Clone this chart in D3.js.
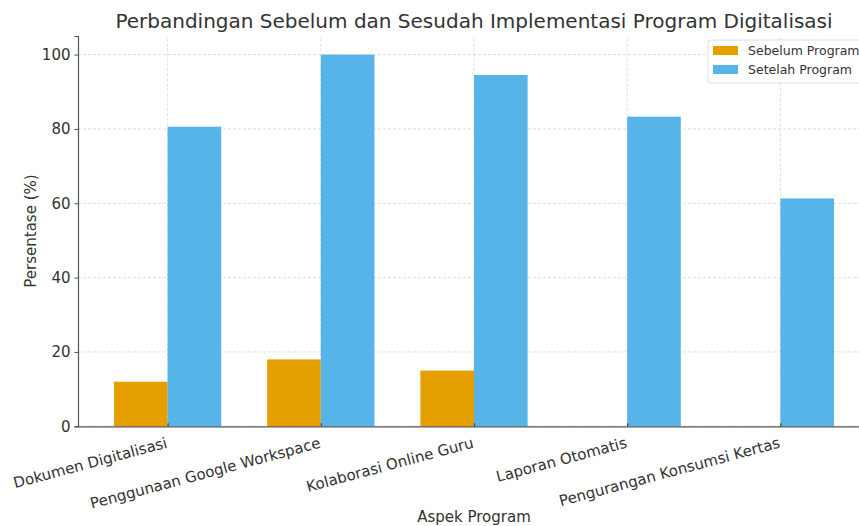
<!DOCTYPE html>
<html>
<head>
<meta charset="utf-8">
<script src="https://cdn.jsdelivr.net/npm/d3@7"></script>
<style>
  body { margin: 0; background: #fff; }
  svg { display: block; font-family: "DejaVu Sans", sans-serif; }
</style>
</head>
<body>
<svg width="859" height="526"></svg>
<script>
// chart data
var categories = ['Dokumen Digitalisasi', 'Penggunaan Google Workspace', 'Kolaborasi Online Guru', 'Laporan Otomatis', 'Pengurangan Konsumsi Kertas'];
var sebelum = [12, 18, 15, 0, 0];
var setelah = [80.6, 100, 94.5, 83.3, 61.3];
var yTicks = [0, 20, 40, 60, 80, 100];
var seriesNames = ['Sebelum Program', 'Setelah Program'];
var colors = ['#E69F00', '#56B4E9'];

var svg = d3.select('svg');
var textColor = '#333';
var barW = 0.35;

// axes area (right side runs past the picture edge)
var x = d3.scaleLinear().domain([-0.585, categories.length - 1 + 0.585]).range([78, 870]);
var y = d3.scaleLinear().domain([0, 105]).range([426.3, 36]);

// grid
var grid = svg.append('g');
grid.selectAll('line.h').data(yTicks).enter().append('line')
    .attr('x1', x.range()[0]).attr('x2', x.range()[1])
    .attr('y1', function(d) { return y(d) }).attr('y2', function(d) { return y(d) })
    .attr('stroke', '#d6d6d6').attr('stroke-width', 0.8).attr('stroke-dasharray', '3,2');
grid.selectAll('line.v').data(categories).enter().append('line')
    .attr('x1', function(d, i) { return x(i) }).attr('x2', function(d, i) { return x(i) })
    .attr('y1', y.range()[0]).attr('y2', y.range()[1])
    .attr('stroke', '#d6d6d6').attr('stroke-width', 0.8).attr('stroke-dasharray', '3,2');

// bars
[sebelum, setelah].forEach(function(vals, s) {
    svg.append('g').selectAll('rect').data(vals).enter().append('rect')
        .attr('x', function(d, i) { return s == 0 ? x(i - barW) : x(i) })
        .attr('width', x(barW) - x(0))
        .attr('y', function(d) { return y(d) })
        .attr('height', function(d) { return y(0) - y(d) })
        .attr('fill', colors[s]);
});

// y axis
var yAxis = svg.append('g').attr('transform', 'translate(78,0)')
    .call(d3.axisLeft(y).tickValues(yTicks).tickSize(3.5).tickPadding(4));
yAxis.select('.domain').attr('stroke', '#555').attr('stroke-width', 1.2);
yAxis.selectAll('.tick line').attr('stroke', '#555');
yAxis.selectAll('.tick text').attr('fill', textColor).style('font-size', '15px').style('font-family', 'DejaVu Sans');

// x axis
var xAxis = svg.append('g').attr('transform', 'translate(0,' + y(0) + ')')
    .call(d3.axisBottom(x).tickValues(d3.range(categories.length)).tickSize(-3).tickSizeOuter(0)
        .tickFormat(function(d) { return categories[d] }));
xAxis.select('.domain').attr('stroke', '#555').attr('stroke-width', 1.2);
xAxis.selectAll('.tick line').attr('stroke', '#444').attr('stroke-width', 1.2);
xAxis.selectAll('.tick text')
    .attr('fill', textColor).style('font-size', '15px').style('font-family', 'DejaVu Sans')
    .attr('text-anchor', 'end').attr('y', 0).attr('dy', 0)
    .attr('transform', 'translate(0,21) rotate(-15)');

// titles
svg.append('text').attr('x', 474).attr('y', 28).attr('text-anchor', 'middle')
    .attr('fill', textColor).style('font-size', '20px')
    .text('Perbandingan Sebelum dan Sesudah Implementasi Program Digitalisasi');
svg.append('text').attr('x', 474).attr('y', 522).attr('text-anchor', 'middle')
    .attr('fill', textColor).style('font-size', '15px').text('Aspek Program');
svg.append('text').attr('transform', 'translate(36,231) rotate(-90)').attr('text-anchor', 'middle')
    .attr('fill', textColor).style('font-size', '15px').text('Persentase (%)');

// legend
var legend = svg.append('g').attr('transform', 'translate(708,40)');
legend.append('rect').attr('width', 170).attr('height', 43).attr('rx', 3)
    .attr('fill', '#fff').attr('fill-opacity', 0.85).attr('stroke', '#ddd');
seriesNames.forEach(function(name, i) {
    legend.append('rect').attr('x', 5).attr('y', 6 + i * 19).attr('width', 25).attr('height', 9).attr('fill', colors[i]);
    legend.append('text').attr('x', 40).attr('y', 15 + i * 19).attr('fill', textColor)
        .style('font-size', '12.5px').text(name);
});
</script>
</body>
</html>
